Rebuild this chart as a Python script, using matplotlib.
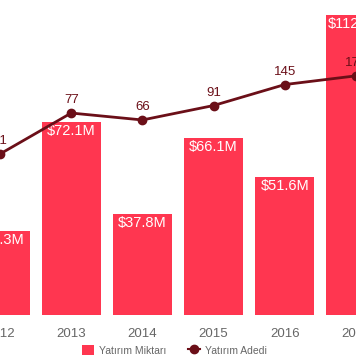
import numpy as np
import matplotlib.pyplot as plt
from matplotlib.patches import Patch
from matplotlib.lines import Line2D

plt.rcParams['font.family'] = ['Liberation Sans', 'DejaVu Sans']

# Data
years = ["2012", "2013", "2014", "2015", "2016", "2017"]
amounts = [31.3, 72.1, 37.8, 66.1, 51.6, 112.0]   # Yatırım Miktarı, $M
counts = [31, 77, 66, 91, 145, 176]               # Yatırım Adedi

BAR_COLOR = "#ff3650"
LINE_COLOR = "#6b0f18"
GRAY = "#666666"

fig = plt.figure(figsize=(3.56, 3.64), dpi=100)
ax = fig.add_axes([0.0, 0.1346, 1.0, 0.8654])
ax2 = ax.twinx()

x = np.arange(len(years))
ax.bar(x, amounts, width=0.83, color=BAR_COLOR, linewidth=0, zorder=1)
for xi, v in zip(x, amounts):
    ax.text(xi, v - 3.3, f"${v:.1f}M", ha="center", va="center",
            color="white", fontsize=10.5)

ax2.plot(x, counts, color=LINE_COLOR, linewidth=2, marker="o",
         markersize=6, zorder=3)
for xi, v in zip(x, counts):
    ax2.text(xi, v * 1.33, str(v), ha="center", va="center",
             color=LINE_COLOR, fontsize=9.5)

ax.set_xlim(0, 356 / 72.2)
ax.set_ylim(0, 117.5)
ax2.set_yscale("log")
ax2.set_ylim(0.866, 949)

ax.set_xticks(x)
ax.set_xticklabels(years, color=GRAY, fontsize=9.5)
ax.tick_params(axis="x", length=0, pad=9)
ax.set_yticks([])
ax2.set_yticks([])
ax2.minorticks_off()
for a in (ax, ax2):
    for s in a.spines.values():
        s.set_visible(False)

handles = [
    Patch(facecolor=BAR_COLOR, edgecolor="none", label="Yatırım Miktarı"),
    Line2D([0], [0], color=LINE_COLOR, marker="o", markersize=6,
           linewidth=1.5, label="Yatırım Adedi"),
]
fig.legend(handles=handles, loc="center", bbox_to_anchor=(0.49, 0.038),
           ncol=2, frameon=False, fontsize=7.5, labelcolor=GRAY,
           handlelength=1.15, handleheight=1.15, columnspacing=2.0,
           handletextpad=0.5)

fig.savefig("out.png", dpi=100)
